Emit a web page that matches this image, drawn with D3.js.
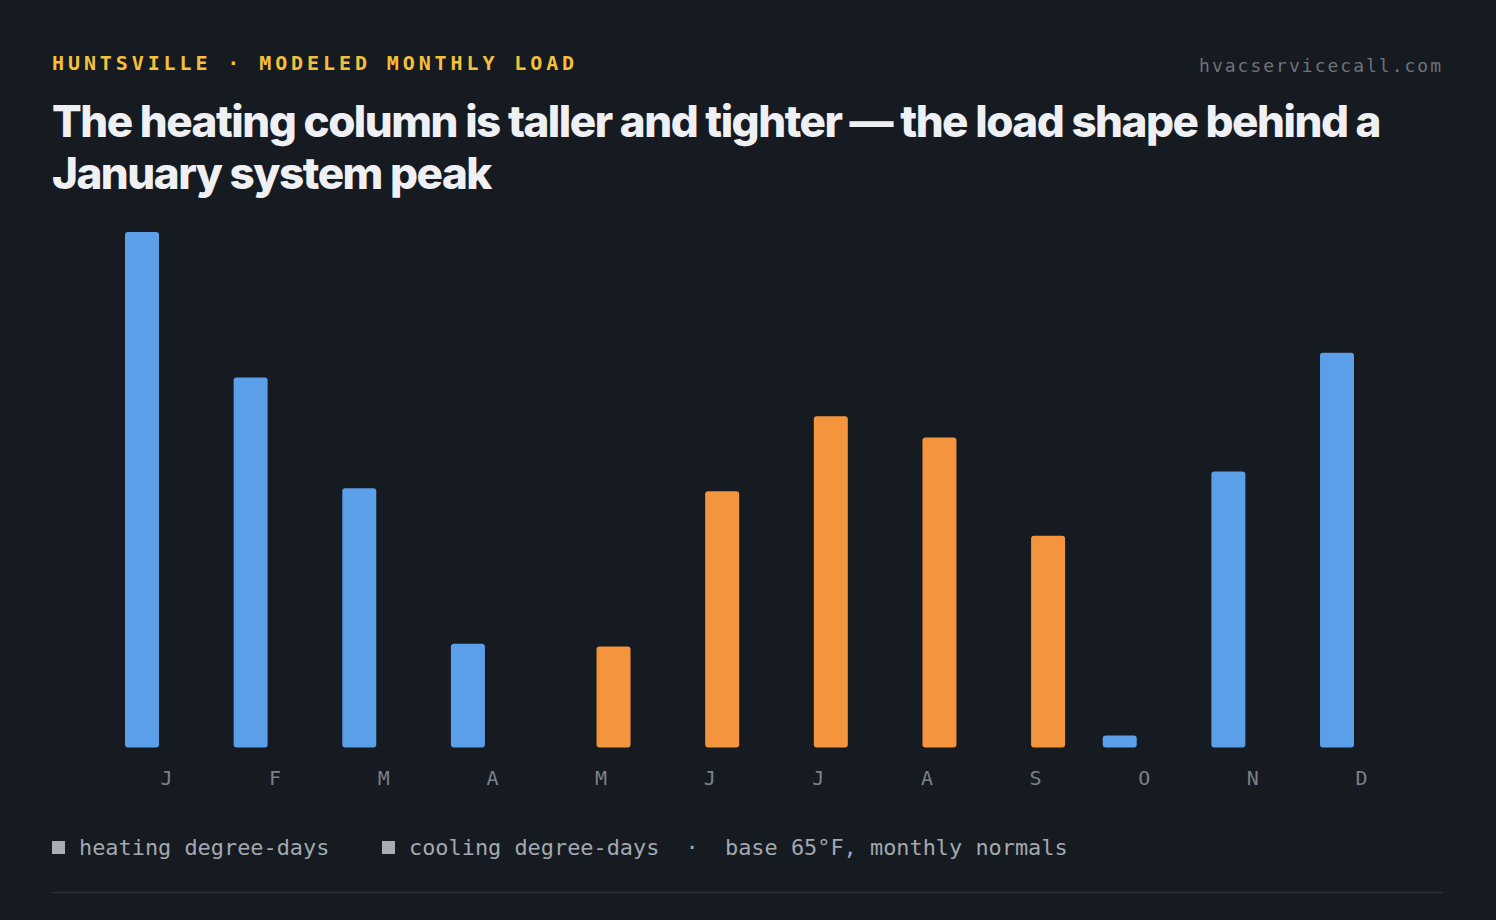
<!DOCTYPE html>
<html>
<head>
<meta charset="utf-8">
<script src="https://cdn.jsdelivr.net/npm/d3@7"></script>
<style>
  html, body { margin: 0; padding: 0; background: #161a21; }
  svg { display: block; }
</style>
</head>
<body>
<svg id="chart" width="1496" height="920"></svg>
<script>
const months = ["J","F","M","A","M","J","J","A","S","O","N","D"];
const monthKeys = ["Jan","Feb","Mar","Apr","May","Jun","Jul","Aug","Sep","Oct","Nov","Dec"];
const heatingDD = [730, 524, 367, 147, 0, 0, 0, 0, 0, 17, 391, 559];
const coolingDD = [0, 0, 0, 0, 143, 363, 469, 439, 300, 0, 0, 0];
const seriesKeys = ["heating", "cooling"];
const seriesColors = ["#5b9fe8", "#f4943c"];
const legendLabels = ["heating degree-days", "cooling degree-days"];
const kicker = "HUNTSVILLE · MODELED MONTHLY LOAD";
const sourceLabel = "hvacservicecall.com";
const titleLines = ["The heating column is taller and tighter — the load shape behind a", "January system peak"];
const noteLabel = "base 65°F, monthly normals";
const yMax = 730;

const svg = d3.select("#chart");
const W = 1496, H = 920;
svg.append("rect").attr("width", W).attr("height", H).attr("fill", "#161a21");

const mono = "'DejaVu Sans Mono', 'Liberation Mono', monospace";

svg.append("text").attr("x", 52).attr("y", 70)
  .attr("font-family", mono).attr("font-weight", 700).attr("font-size", 20)
  .attr("letter-spacing", "3.9px").attr("fill", "#f5c03a").text(kicker);

svg.append("text").attr("x", 1443).attr("y", 72).attr("text-anchor", "end")
  .attr("font-family", mono).attr("font-size", 18).attr("letter-spacing", "2px")
  .attr("fill", "#6d737b").text(sourceLabel);

svg.append("g").selectAll("text").data(titleLines).join("text")
  .attr("x", 52).attr("y", (d, i) => 137 + i * 52)
  .attr("font-family", "Inter, 'Noto Sans', sans-serif").attr("font-weight", 800)
  .attr("font-size", 44).attr("letter-spacing", "-1.5px")
  .attr("fill", "#eef0f3").text(d => d);

const data = monthKeys.map((k, i) => ({ key: k, label: months[i], heating: heatingDD[i], cooling: coolingDD[i] }));

const x0 = d3.scaleBand().domain(monthKeys).range([125, 1391]).paddingInner(0.3465).paddingOuter(0);
const x1 = d3.scaleBand().domain(seriesKeys).range([0, x0.bandwidth()]).paddingInner(0.081).paddingOuter(0);
const y = d3.scaleLinear().domain([0, yMax]).range([747.5, 232]);
const color = d3.scaleOrdinal().domain(seriesKeys).range(seriesColors);

const groups = svg.append("g").selectAll("g").data(data).join("g")
  .attr("transform", d => `translate(${x0(d.key)},0)`);

groups.selectAll("rect")
  .data(d => seriesKeys.map(s => ({ s, v: d[s] })).filter(e => e.v > 0))
  .join("rect")
  .attr("x", e => x1(e.s))
  .attr("width", x1.bandwidth())
  .attr("y", e => y(e.v))
  .attr("height", e => y(0) - y(e.v))
  .attr("rx", 3).attr("ry", 3)
  .attr("fill", e => color(e.s));

const xAxis = d3.axisBottom(x0).tickSize(0).tickPadding(0).tickFormat((d, i) => months[i]);
const ax = svg.append("g").attr("transform", "translate(6,771)").call(xAxis);
ax.select(".domain").remove();
ax.selectAll("text").attr("font-family", mono).attr("font-size", 20)
  .attr("fill", "#7b8189").attr("dy", "0.71em").attr("y", 0);

const legend = svg.append("g");
const legendX = [52, 382];
const legendSize = 21.9;
legendLabels.forEach((lab, i) => {
  legend.append("rect").attr("x", legendX[i]).attr("y", 841).attr("width", 13).attr("height", 13)
    .attr("fill", "#a9aeb5");
  legend.append("text").attr("x", legendX[i] + 27).attr("y", 855)
    .attr("font-family", mono).attr("font-size", legendSize).attr("fill", "#a3a9b0").text(lab);
});
legend.append("text").attr("x", 692).attr("y", 855).attr("text-anchor", "middle")
  .attr("font-family", mono).attr("font-size", legendSize).attr("fill", "#a3a9b0").text("·");
legend.append("text").attr("x", 725).attr("y", 855)
  .attr("font-family", mono).attr("font-size", legendSize).attr("fill", "#a3a9b0").text(noteLabel);

svg.append("line").attr("x1", 52).attr("x2", 1443).attr("y1", 892.5).attr("y2", 892.5)
  .attr("stroke", "#2c3038").attr("stroke-width", 1.5);
</script>
</body>
</html>
